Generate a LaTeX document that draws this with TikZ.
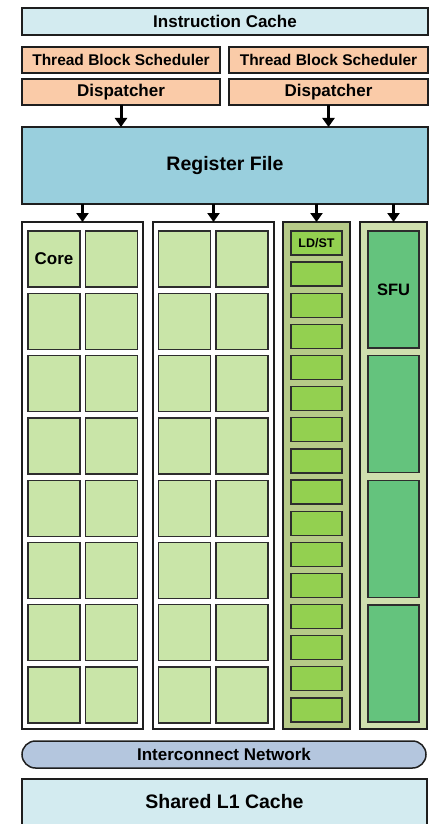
\documentclass[tikz,border=0pt]{standalone}
\usepackage{fontspec}
\setmainfont{Liberation Sans}
\usetikzlibrary{arrows.meta}

\definecolor{cachefill}{RGB}{211,235,240}
\definecolor{schedfill}{RGB}{250,203,168}
\definecolor{regfill}{RGB}{153,207,221}
\definecolor{corefill}{RGB}{201,229,168}
\definecolor{ldstbg}{RGB}{182,202,136}
\definecolor{ldstfill}{RGB}{147,208,80}
\definecolor{sfubg}{RGB}{207,223,174}
\definecolor{sfufill}{RGB}{100,195,125}
\definecolor{netfill}{RGB}{180,198,222}
\definecolor{edge}{RGB}{30,30,30}
\definecolor{celledge}{RGB}{45,45,45}

\tikzset{
  unitbox/.style={draw=edge, line width=1.5pt, inner sep=0pt, outer sep=0pt,
    font=\bfseries\fontsize{17}{20}\selectfont},
  column/.style={draw=edge, line width=2pt, inner sep=0pt, outer sep=0pt},
  cell/.style={draw=celledge, line width=1.3pt, inner sep=0pt, outer sep=0pt,
    font=\bfseries\fontsize{17}{20}\selectfont},
  feed/.style={line width=3pt, -{Triangle[width=12pt,length=9pt]}}
}

\begin{document}
\begin{tikzpicture}[x=1pt,y=-1pt]
\useasboundingbox (0,0) rectangle (432,824);
\clip (0,0) rectangle (432,824);

% front end
\node[unitbox, fill=cachefill, minimum width=406pt, minimum height=27pt] (icache) at (225,21.5) {Instruction Cache};
\node[unitbox, fill=schedfill, minimum width=198pt, minimum height=26pt, font=\bfseries\fontsize{15.5}{18}\selectfont] (tbs1) at (121,60) {Thread Block Scheduler};
\node[unitbox, fill=schedfill, minimum width=199pt, minimum height=26pt, font=\bfseries\fontsize{15.5}{18}\selectfont] (tbs2) at (328.5,60) {Thread Block Scheduler};
\node[unitbox, fill=schedfill, minimum width=198pt, minimum height=26pt] (disp1) at (121,92) {Dispatcher};
\node[unitbox, fill=schedfill, minimum width=199pt, minimum height=26pt] (disp2) at (328.5,92) {Dispatcher};

\node[unitbox, fill=regfill, minimum width=406pt, minimum height=77pt, font=\bfseries\fontsize{19.5}{22}\selectfont] (regfile) at (225,165.5) {Register File};

\draw[feed] (disp1.south) -- (disp1.south |- regfile.north);
\draw[feed] (disp2.south) -- (disp2.south |- regfile.north);

% execution columns
\node[column, fill=white, minimum width=121pt, minimum height=507pt] (colA) at (82.5,475.5) {};
\node[column, fill=white, minimum width=121pt, minimum height=507pt] (colB) at (213.5,475.5) {};
\node[column, fill=ldstbg, minimum width=67pt, minimum height=507pt] (colC) at (316.5,475.5) {};
\node[column, fill=sfubg, minimum width=67pt, minimum height=507pt] (colD) at (393.5,475.5) {};

\foreach \c in {colA,colB,colC,colD}
  \draw[feed] (regfile.south -| \c.north) -- (\c.north);

% cores: two columns of 2 x 8
\foreach \r in {0,...,7} {
  \node[cell, fill=corefill, minimum width=52pt, minimum height=56pt] (aL\r) at (54,{259+62.3*\r}) {\ifnum\r=0 Core\fi};
  \node[cell, fill=corefill, minimum width=52pt, minimum height=56pt] (aR\r) at (111.5,{259+62.3*\r}) {};
  \node[cell, fill=corefill, minimum width=52pt, minimum height=56pt] (bL\r) at (184.5,{259+62.3*\r}) {};
  \node[cell, fill=corefill, minimum width=52pt, minimum height=56pt] (bR\r) at (242,{259+62.3*\r}) {};
}

% load/store units
\foreach \r in {0,...,15}
  \node[cell, fill=ldstfill, minimum width=51pt, minimum height=24pt, font=\bfseries\fontsize{12.5}{15}\selectfont] (ls\r) at (316.5,{243+31.13*\r}) {\ifnum\r=0 LD/ST\fi};

% special function units
\foreach \r in {0,...,3}
  \node[cell, fill=sfufill, minimum width=51pt, minimum height=117pt, font=\bfseries\fontsize{16.5}{19}\selectfont] (sfu\r) at (393.5,{289.5+124.7*\r}) {\ifnum\r=0 SFU\fi};

% memory side
\node[unitbox, fill=netfill, minimum width=404pt, minimum height=27pt, rounded corners=13.5pt] (net) at (224,754.5) {Interconnect Network};
\node[unitbox, fill=cachefill, minimum width=405pt, minimum height=52pt] (l1) at (224.5,805) {};
\node[font=\bfseries\fontsize{19.5}{22}\selectfont, inner sep=0pt] (l1label) at (224.5,802) {Shared L1 Cache};

\end{tikzpicture}
\end{document}
